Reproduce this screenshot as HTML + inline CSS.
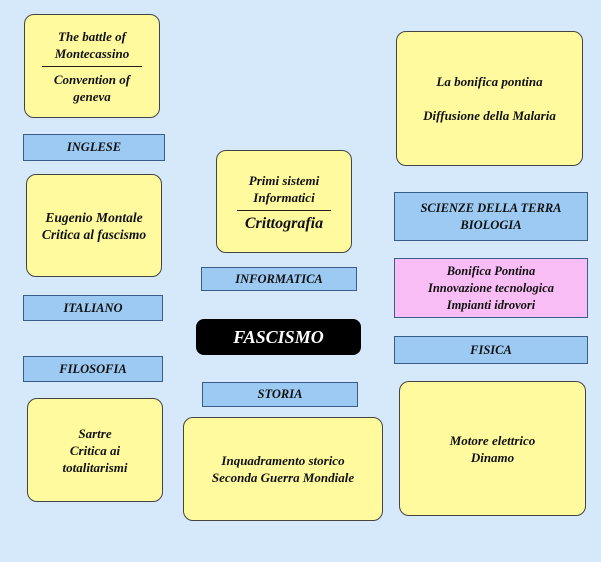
<!DOCTYPE html>
<html><head><style>
body{margin:0;width:601px;height:562px;background:#d6e9fb;position:relative;overflow:hidden;font-family:"Liberation Serif",serif;font-style:italic;font-weight:bold;color:#111}
.b{position:absolute;box-sizing:border-box;display:flex;flex-direction:column;align-items:center;justify-content:center;text-align:center}
.y{background:#fffa9e;border:1.5px solid #444;border-radius:10px;font-size:13px;line-height:17px}
.l{background:#9ccaf3;border:1.5px solid #3c5d8a;font-size:12.5px;line-height:17px}
hr{width:70%;border:0;border-top:1px solid #222;margin:4px 0}
</style></head><body>
<div class="b y" style="left:24px;top:14px;width:136px;height:104px">The battle of<br>Montecassino<hr style="width:75%">Convention of<br>geneva</div>
<div class="b l" style="left:23px;top:134px;width:142px;height:27px">INGLESE</div>
<div class="b y" style="left:26px;top:174px;width:136px;height:103px;font-size:13.5px">Eugenio Montale<br>Critica al fascismo</div>
<div class="b l" style="left:23px;top:295px;width:140px;height:26px">ITALIANO</div>
<div class="b l" style="left:23px;top:356px;width:140px;height:26px">FILOSOFIA</div>
<div class="b y" style="left:27px;top:398px;width:136px;height:104px">Sartre<br>Critica ai<br>totalitarismi</div>
<div class="b y" style="left:216px;top:150px;width:136px;height:103px">Primi sistemi<br>Informatici<hr><span style="font-size:16px">Crittografia</span></div>
<div class="b l" style="left:201px;top:267px;width:156px;height:24px">INFORMATICA</div>
<div class="b" style="left:196px;top:319px;width:165px;height:36px;background:#000;color:#fff;border-radius:8px;font-size:18px">FASCISMO</div>
<div class="b l" style="left:202px;top:382px;width:156px;height:25px">STORIA</div>
<div class="b y" style="left:183px;top:417px;width:200px;height:104px">Inquadramento storico<br>Seconda Guerra Mondiale</div>
<div class="b y" style="left:396px;top:31px;width:187px;height:135px;line-height:34px">La bonifica pontina<br>Diffusione della Malaria</div>
<div class="b l" style="left:394px;top:192px;width:194px;height:49px">SCIENZE DELLA TERRA<br>BIOLOGIA</div>
<div class="b l" style="left:394px;top:258px;width:194px;height:60px;background:#f9bdf5;font-size:12.5px">Bonifica Pontina<br>Innovazione tecnologica<br>Impianti idrovori</div>
<div class="b l" style="left:394px;top:336px;width:194px;height:28px">FISICA</div>
<div class="b y" style="left:399px;top:381px;width:187px;height:135px">Motore elettrico<br>Dinamo</div>
</body></html>
